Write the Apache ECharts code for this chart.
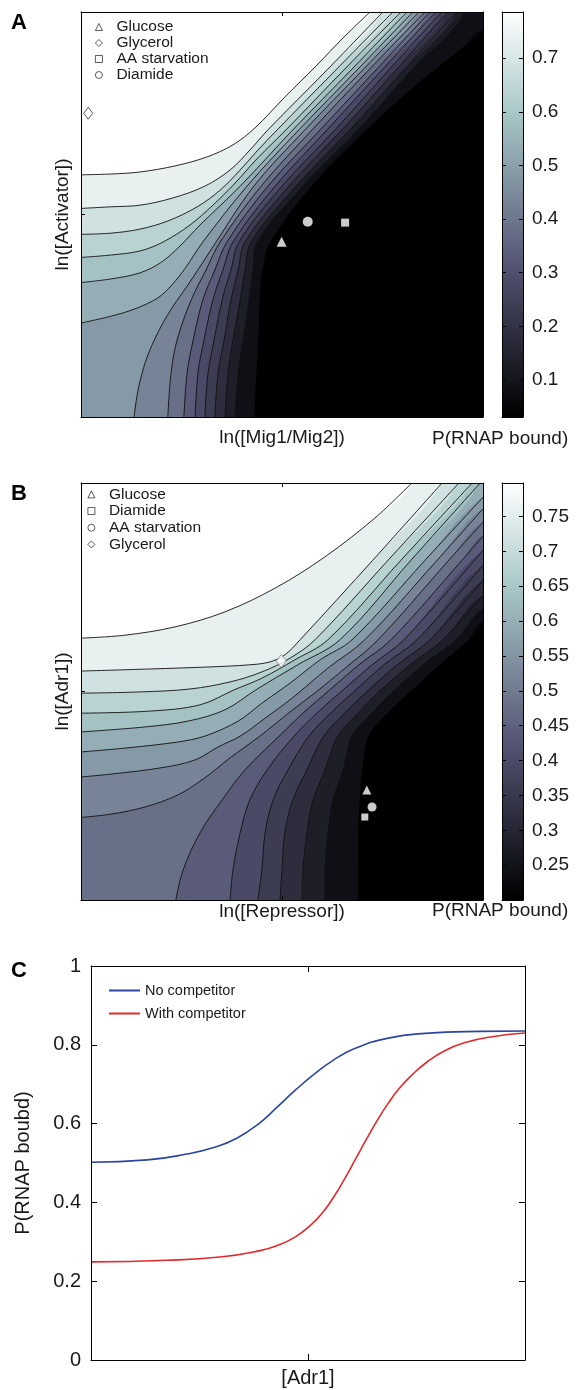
<!DOCTYPE html>
<html>
<head>
<meta charset="utf-8">
<script src="https://cdn.jsdelivr.net/npm/echarts@6/dist/echarts.min.js"></script>
<style>
  html, body { margin: 0; padding: 0; background: #fff; }
  #chart { width: 578px; height: 1390px; }
</style>
</head>
<body>
<div id="chart"></div>
<script>
// ---- panel A: contour lines of P(RNAP bound), lowest level first (axis units 0..10)
var a0 = [[4.30,0],[4.35,1.09],[4.40,1.90],[4.43,2.89],[4.50,3.63],[4.70,4.32],[5.72,5.70],[7.09,7.09],[8.26,8.15],[9.50,9.14],[10,9.56]];
var a1 = [[3.83,0],[3.91,1.09],[4.03,1.90],[4.18,2.89],[4.28,3.63],[4.38,4.32],[5.52,5.70],[6.89,7.09],[8.23,8.57],[9.55,10]];
var a2 = [[3.58,0],[3.66,1.09],[3.78,1.90],[3.96,2.89],[4.08,3.63],[4.23,4.32],[5.35,5.70],[6.69,7.09],[8.03,8.57],[9.35,10]];
var a3 = [[3.33,0],[3.41,1.09],[3.56,1.90],[3.73,2.89],[3.91,3.63],[4.08,4.32],[5.17,5.70],[6.49,7.09],[7.84,8.57],[9.13,10]];
var a4 = [[3.08,0],[3.16,1.09],[3.31,1.90],[3.51,2.89],[3.73,3.63],[3.93,4.32],[5.00,5.70],[6.32,7.09],[7.66,8.57],[8.98,10]];
var a5 = [[2.84,0],[2.91,1.09],[3.06,1.90],[3.28,2.89],[3.53,3.63],[3.78,4.32],[4.83,5.70],[6.12,7.09],[7.49,8.57],[8.83,10]];
var a6 = [[2.56,0],[2.64,1.09],[2.79,1.90],[3.03,2.89],[3.33,3.63],[3.63,4.32],[4.65,5.70],[5.95,7.09],[7.34,8.57],[8.68,10]];
var a7 = [[2.16,0],[2.24,1.09],[2.39,1.90],[2.74,2.89],[3.11,3.63],[3.46,4.32],[4.48,5.70],[5.75,7.09],[7.16,8.57],[8.56,10]];
var a8 = [[1.32,0],[1.42,0.67],[1.62,1.41],[1.92,2.10],[2.26,2.69],[2.61,3.19],[2.94,3.68],[3.26,4.17],[4.30,5.70],[5.57,7.09],[7.01,8.57],[8.41,10]];
var a9 = [[0,2.32],[0.75,2.49],[1.34,2.67],[1.91,2.94],[2.26,3.26],[2.61,3.70],[3.03,4.32],[4.13,5.70],[5.42,7.09],[6.87,8.57],[8.26,10]];
var a10 = [[0,3.32],[0.75,3.41],[1.47,3.56],[2.01,3.83],[2.46,4.22],[2.96,4.74],[3.96,5.70],[5.27,7.09],[6.72,8.57],[8.11,10]];
var a11 = [[0,3.94],[0.75,4.00],[1.47,4.10],[2.04,4.32],[2.71,4.74],[3.28,5.23],[3.81,5.75],[4.40,6.40],[5.10,7.09],[6.54,8.57],[7.96,10]];
var a12 = [[0,4.51],[0.75,4.54],[1.47,4.64],[2.16,4.84],[2.89,5.19],[3.46,5.60],[3.96,6.10],[4.40,6.59],[4.88,7.09],[6.34,8.57],[7.76,10]];
var a13 = [[0,5.15],[0.75,5.19],[1.47,5.23],[2.29,5.41],[3.08,5.70],[3.71,6.10],[4.20,6.59],[4.65,7.09],[6.12,8.57],[7.51,10]];
var a14 = [[0,5.98],[0.75,6.00],[1.47,6.05],[2.34,6.20],[3.13,6.42],[3.78,6.72],[4.33,7.14],[5.07,7.90],[5.85,8.67],[6.52,9.36],[7.19,10]];

// ---- panel B
var b0 = [[6.89,0],[6.89,0.72],[6.89,1.61],[6.92,2.40],[6.99,3.12],[7.14,3.93],[7.64,4.51],[8.23,5.04],[8.93,5.66],[9.63,6.24],[10,6.67]];
var b1 = [[6.07,0],[6.07,0.72],[6.14,1.61],[6.27,2.40],[6.52,3.12],[6.74,3.93],[7.26,4.51],[7.81,5.04],[8.53,5.66],[9.33,6.24],[10,6.98]];
var b2 = [[5.50,0],[5.52,0.72],[5.62,1.61],[5.77,2.40],[6.07,3.12],[6.39,3.93],[6.92,4.51],[7.46,5.04],[8.21,5.66],[9.00,6.24],[10,7.31]];
var b3 = [[4.95,0],[5.00,0.72],[5.07,1.61],[5.27,2.40],[5.62,3.12],[6.04,3.93],[6.59,4.51],[7.16,5.04],[7.89,5.66],[8.68,6.24],[10,7.67]];
var b4 = [[4.40,0],[4.50,0.72],[4.58,1.61],[4.78,2.40],[5.15,3.12],[5.67,3.93],[6.24,4.51],[6.84,5.04],[7.56,5.66],[8.36,6.24],[10,8.03]];
var b5 = [[3.71,0],[3.78,0.72],[3.96,1.61],[4.20,2.40],[4.63,3.12],[5.30,3.93],[5.90,4.51],[6.52,5.04],[7.24,5.64],[8.03,6.24],[10,8.39]];
var b6 = [[2.36,0],[2.54,0.72],[2.96,1.61],[3.51,2.40],[4.08,3.12],[4.93,3.93],[5.52,4.48],[6.19,5.04],[6.94,5.66],[7.71,6.24],[9.48,8.15],[10,8.73]];
var b7 = [[0,1.98],[0.75,2.06],[1.59,2.23],[2.41,2.52],[3.08,2.93],[3.71,3.41],[4.45,3.93],[5.20,4.51],[5.85,4.99],[6.57,5.56],[7.39,6.24],[9.15,8.15],[10,9.06]];
var b8 = [[0,2.95],[0.75,3.02],[1.99,3.17],[2.84,3.36],[3.41,3.67],[3.96,3.93],[4.58,4.36],[5.25,4.84],[6.14,5.56],[7.06,6.24],[8.86,8.15],[10,9.38]];
var b9 = [[0,3.55],[1.17,3.65],[2.41,3.79],[3.08,3.93],[3.91,4.29],[4.50,4.72],[5.20,5.20],[5.95,5.76],[6.74,6.24],[8.56,8.15],[10,9.66]];
var b10 = [[0,4.03],[1.59,4.15],[2.66,4.29],[3.58,4.56],[4.35,5.04],[5.39,5.64],[6.44,6.24],[8.21,8.15],[9.93,10]];
var b11 = [[0,4.48],[1.72,4.53],[2.96,4.68],[3.81,5.04],[4.50,5.32],[5.32,5.76],[6.14,6.24],[7.96,8.15],[9.73,10]];
var b12 = [[0,4.96],[1.47,4.99],[2.71,5.06],[3.71,5.23],[4.50,5.47],[5.20,5.80],[5.82,6.24],[7.64,8.15],[9.40,10]];
var b13 = [[0,5.49],[1.72,5.54],[3.21,5.59],[4.20,5.64],[4.70,5.71],[5.07,5.88],[5.45,6.24],[7.26,8.15],[8.98,10]];
var b14 = [[0,6.28],[1.09,6.35],[2.34,6.55],[3.58,6.91],[4.83,7.48],[6.07,8.23],[7.31,9.16],[8.23,10]];

// ---- condition markers
var glucoseA = [[4.99,4.33]];
var glycerolA = [[0.18,7.50]];
var aaStarvationA = [[6.57,4.80]];
var diamideA = [[5.64,4.82]];
var glucoseB = [[7.11,2.64]];
var diamideB = [[7.06,1.99]];
var aaStarvationB = [[7.24,2.23]];
var glycerolB = [[4.98,5.73]];

// ---- colorbars
var cbRangeA = [0.031, 0.786];
var cbTicksA = [0.1, 0.2, 0.3, 0.4, 0.5, 0.6, 0.7];
var cbRangeB = [0.2, 0.798];
var cbTicksB = [0.25, 0.3, 0.35, 0.4, 0.45, 0.5, 0.55, 0.6, 0.65, 0.7, 0.75];

// ---- panel C: P(RNAP bound) against [Adr1] (x in % of axis)
var noCompetitor = [[0,0.502],[13,0.508],[21.7,0.522],[28.5,0.540],[33.6,0.563],[38.7,0.600],[43,0.643],[47.2,0.686],[51.5,0.726],[55.7,0.760],[60.9,0.791],[68.5,0.817],[77,0.829],[89.8,0.834],[100,0.835]];
var withCompetitor = [[0,0.249],[17.4,0.253],[30.2,0.262],[38.7,0.277],[43,0.291],[47,0.312],[50.5,0.341],[53.5,0.376],[56,0.415],[58.5,0.461],[61,0.511],[63.5,0.561],[66,0.609],[68.5,0.652],[71,0.689],[74,0.724],[77.5,0.757],[81.5,0.785],[86,0.805],[92,0.820],[100,0.830]];

var contoursA = [a0, a1, a2, a3, a4, a5, a6, a7, a8, a9, a10, a11, a12, a13, a14];
var contoursB = [b0, b1, b2, b3, b4, b5, b6, b7, b8, b9, b10, b11, b12, b13, b14];

var FONT = '"Liberation Sans", Arial, Helvetica, sans-serif';
var TEXT = '#1a1a1a';
var SMOOTH = 0.35;

// MATLAB "bone" colormap
function bone(t) {
  var hr = Math.min(1, t / 0.375);
  var hg = Math.min(1, Math.max(0, (t - 0.375) / 0.375));
  var hb = Math.max(0, (t - 0.75) / 0.25);
  return 'rgb(' + Math.round(255 * (7 * t + hb) / 8) + ',' +
    Math.round(255 * (7 * t + hg) / 8) + ',' +
    Math.round(255 * (7 * t + hr) / 8) + ')';
}
var boneStops = [
  { offset: 0, color: bone(1) },
  { offset: 0.25, color: bone(0.75) },
  { offset: 0.625, color: bone(0.375) },
  { offset: 1, color: bone(0) }
];

// region above/left of contour k, closed round the upper-left corner outside the plot
function fillRenderer(contours) {
  return function (params, api) {
    var k = api.value(0);
    var line = contours[k];
    var first = line[0], last = line[line.length - 1];
    var pts = line.slice();
    if (last[1] >= 10) pts.push([last[0], 11]);
    else pts.push([11, last[1]], [11, 11]);
    pts.push([-1, 11]);
    if (first[0] <= 0) pts.push([-1, first[1]]);
    else pts.push([-1, -1], [first[0], -1]);
    return {
      type: 'polygon',
      shape: { points: pts.map(function (p) { return api.coord(p); }), smooth: SMOOTH },
      style: { fill: bone((k + 1) / contours.length) }
    };
  };
}
function lineRenderer(contours) {
  return function (params, api) {
    var line = contours[api.value(0)];
    return {
      type: 'polyline',
      shape: { points: line.map(function (p) { return api.coord(p); }), smooth: SMOOTH },
      style: { stroke: '#111', lineWidth: 0.9, fill: null }
    };
  };
}
function barRenderer(params, api) {
  var top = api.coord([0, api.value(1)]);
  var bottom = api.coord([1, api.value(0)]);
  return {
    type: 'rect',
    shape: { x: top[0], y: top[1], width: bottom[0] - top[0], height: bottom[1] - top[1] },
    style: { fill: new echarts.graphic.LinearGradient(0, 0, 0, 1, boneStops) }
  };
}
function indexData(list) {
  return list.map(function (c, i) { return [i]; });
}

var nameStyle = { fontSize: 19, fontFamily: FONT, color: TEXT };
var tickIn = function (len, values) {
  var t = { show: true, inside: true, length: len, lineStyle: { color: '#000', width: 1 } };
  if (values) t.customValues = values;
  return t;
};
function frameAxis(gridIndex, extra) {
  return Object.assign({
    gridIndex: gridIndex, type: 'value', z: 10,
    axisLine: { show: true, onZero: false, lineStyle: { color: '#000', width: 1 } },
    axisTick: { show: false }, axisLabel: { show: false }, splitLine: { show: false }
  }, extra);
}
function panelTitle(text, top) {
  return { text: text, left: 11, top: top, padding: 0,
    textStyle: { fontSize: 22, fontWeight: 'bold', color: '#000', fontFamily: FONT } };
}
var markerLegend = {
  orient: 'vertical', itemWidth: 7, itemHeight: 7, itemGap: 0, padding: 0, selectedMode: false,
  itemStyle: { color: '#fff', borderColor: '#000', borderWidth: 0.8 }
};

var chart = echarts.init(document.getElementById('chart'), null, { renderer: 'canvas' });

var option = {
  backgroundColor: '#fff',
  animation: false,
  textStyle: { fontFamily: FONT },
  title: [panelTitle('A', 12), panelTitle('B', 483), panelTitle('C', 960)],
  grid: [
    { left: 81, top: 12, width: 402, height: 405, show: true, backgroundColor: bone(0), borderWidth: 0 },
    { left: 502, top: 12, width: 21, height: 405 },
    { left: 81, top: 483, width: 402, height: 417, show: true, backgroundColor: bone(0), borderWidth: 0 },
    { left: 502, top: 483, width: 21, height: 417 },
    { left: 91, top: 966, width: 434, height: 394 }
  ],
  xAxis: [
    frameAxis(0, { min: 0, max: 10, interval: 5, axisTick: tickIn(4), name: 'ln([Mig1/Mig2])', nameLocation: 'middle', nameGap: 11, nameTextStyle: nameStyle }),
    frameAxis(0, { min: 0, max: 10, interval: 5, position: 'top', axisTick: tickIn(4) }),
    frameAxis(2, { min: 0, max: 10, interval: 5, axisTick: tickIn(4), name: 'ln([Repressor])', nameLocation: 'middle', nameGap: 2, nameTextStyle: nameStyle }),
    frameAxis(2, { min: 0, max: 10, interval: 5, position: 'top', axisTick: tickIn(4) }),
    frameAxis(1, { min: 0, max: 1 }),
    frameAxis(1, { min: 0, max: 1, position: 'top' }),
    frameAxis(3, { min: 0, max: 1 }),
    frameAxis(3, { min: 0, max: 1, position: 'top' }),
    frameAxis(4, { min: 0, max: 100, interval: 50, axisTick: tickIn(6), name: '[Adr1]', nameLocation: 'middle', nameGap: 8, nameTextStyle: { fontSize: 20, fontFamily: FONT, color: TEXT } }),
    frameAxis(4, { min: 0, max: 100, interval: 50, position: 'top', axisTick: tickIn(6) })
  ],
  yAxis: [
    frameAxis(0, { min: 0, max: 10, interval: 5, axisTick: tickIn(4), name: 'ln([Activator])', nameLocation: 'middle', nameGap: 9, nameTextStyle: nameStyle }),
    frameAxis(0, { min: 0, max: 10, interval: 5, position: 'right', axisTick: tickIn(4) }),
    frameAxis(2, { min: 0, max: 10, interval: 5, axisTick: tickIn(4), name: 'ln([Adr1])', nameLocation: 'middle', nameGap: 9, nameTextStyle: nameStyle }),
    frameAxis(2, { min: 0, max: 10, interval: 5, position: 'right', axisTick: tickIn(4) }),
    frameAxis(1, { min: cbRangeA[0], max: cbRangeA[1], position: 'right', axisTick: tickIn(4, cbTicksA),
      axisLabel: { show: true, customValues: cbTicksA, margin: 9, fontSize: 19, fontFamily: FONT, color: TEXT } }),
    frameAxis(1, { min: cbRangeA[0], max: cbRangeA[1], position: 'left', axisTick: tickIn(4, cbTicksA) }),
    frameAxis(3, { min: cbRangeB[0], max: cbRangeB[1], position: 'right', axisTick: tickIn(4, cbTicksB),
      axisLabel: { show: true, customValues: cbTicksB, margin: 9, fontSize: 19, fontFamily: FONT, color: TEXT } }),
    frameAxis(3, { min: cbRangeB[0], max: cbRangeB[1], position: 'left', axisTick: tickIn(4, cbTicksB) }),
    frameAxis(4, { min: 0, max: 1, interval: 0.2, axisTick: tickIn(6),
      axisLabel: { show: true, margin: 10, fontSize: 20, fontFamily: FONT, color: TEXT },
      name: 'P(RNAP boubd)', nameLocation: 'middle', nameGap: 58, nameTextStyle: { fontSize: 20, fontFamily: FONT, color: TEXT } }),
    frameAxis(4, { min: 0, max: 1, interval: 0.2, position: 'right', axisTick: tickIn(6) })
  ],
  legend: [
    Object.assign({}, markerLegend, {
      left: 95, top: 19,
      textStyle: { fontSize: 15.5, lineHeight: 15, fontFamily: FONT, color: TEXT, padding: [0, 0, 0, 9] },
      data: [
        { name: 'Glucose', icon: 'triangle' },
        { name: 'Glycerol', icon: 'diamond' },
        { name: 'AA starvation', icon: 'rect' },
        { name: 'Diamide', icon: 'circle' }
      ]
    }),
    Object.assign({}, markerLegend, {
      left: 87.5, top: 486,
      textStyle: { fontSize: 15.5, lineHeight: 16.7, fontFamily: FONT, color: TEXT, padding: [0, 0, 0, 9] },
      data: [
        { name: 'Glucose', icon: 'triangle' },
        { name: 'Diamide', icon: 'rect' },
        { name: 'AA starvation', icon: 'circle' },
        { name: 'Glycerol', icon: 'diamond' }
      ]
    }),
    {
      orient: 'vertical', left: 109, top: 979, itemWidth: 31, itemHeight: 2, itemGap: 0, padding: 0, selectedMode: false,
      icon: 'rect',
      textStyle: { fontSize: 14.5, lineHeight: 23, fontFamily: FONT, color: TEXT },
      data: ['No competitor', 'With competitor']
    }
  ],
  graphic: [
    { type: 'text', left: 432, top: 429, style: { text: 'P(RNAP bound)', fontSize: 19, fontFamily: FONT, fill: TEXT } },
    { type: 'text', left: 432, top: 901, style: { text: 'P(RNAP bound)', fontSize: 19, fontFamily: FONT, fill: TEXT } }
  ],
  series: [
    { type: 'custom', name: 'fillA', xAxisIndex: 0, yAxisIndex: 0, clip: true, silent: true, z: 1,
      data: indexData(contoursA), renderItem: fillRenderer(contoursA) },
    { type: 'custom', name: 'linesA', xAxisIndex: 0, yAxisIndex: 0, clip: true, silent: true, z: 2,
      data: indexData(contoursA), renderItem: lineRenderer(contoursA) },
    { type: 'custom', name: 'fillB', xAxisIndex: 2, yAxisIndex: 2, clip: true, silent: true, z: 1,
      data: indexData(contoursB), renderItem: fillRenderer(contoursB) },
    { type: 'custom', name: 'linesB', xAxisIndex: 2, yAxisIndex: 2, clip: true, silent: true, z: 2,
      data: indexData(contoursB), renderItem: lineRenderer(contoursB) },
    { type: 'custom', name: 'barA', xAxisIndex: 4, yAxisIndex: 4, silent: true, z: 1,
      data: [cbRangeA], renderItem: barRenderer },
    { type: 'custom', name: 'barB', xAxisIndex: 6, yAxisIndex: 6, silent: true, z: 1,
      data: [cbRangeB], renderItem: barRenderer },

    { type: 'scatter', name: 'Glucose', xAxisIndex: 0, yAxisIndex: 0, z: 5, data: glucoseA,
      symbol: 'triangle', symbolSize: 10, itemStyle: { color: '#fff' } },
    { type: 'scatter', name: 'Glycerol', xAxisIndex: 0, yAxisIndex: 0, z: 5, data: glycerolA,
      symbol: 'diamond', symbolSize: [9, 12], itemStyle: { color: '#fff', borderColor: '#000', borderWidth: 0.8 } },
    { type: 'scatter', name: 'AA starvation', xAxisIndex: 0, yAxisIndex: 0, z: 5, data: aaStarvationA,
      symbol: 'rect', symbolSize: 8, itemStyle: { color: '#fff' } },
    { type: 'scatter', name: 'Diamide', xAxisIndex: 0, yAxisIndex: 0, z: 5, data: diamideA,
      symbol: 'circle', symbolSize: 10, itemStyle: { color: '#fff' } },

    { type: 'scatter', name: 'Glucose', xAxisIndex: 2, yAxisIndex: 2, z: 5, data: glucoseB,
      symbol: 'triangle', symbolSize: 9, itemStyle: { color: '#fff' } },
    { type: 'scatter', name: 'Diamide', xAxisIndex: 2, yAxisIndex: 2, z: 5, data: diamideB,
      symbol: 'rect', symbolSize: 7, itemStyle: { color: '#fff' } },
    { type: 'scatter', name: 'AA starvation', xAxisIndex: 2, yAxisIndex: 2, z: 5, data: aaStarvationB,
      symbol: 'circle', symbolSize: 9, itemStyle: { color: '#fff' } },
    { type: 'scatter', name: 'Glycerol', xAxisIndex: 2, yAxisIndex: 2, z: 5, data: glycerolB,
      symbol: 'diamond', symbolSize: [10, 13], itemStyle: { color: '#fff', borderColor: '#777', borderWidth: 0.8 } },

    { type: 'line', name: 'No competitor', xAxisIndex: 8, yAxisIndex: 8, z: 3, data: noCompetitor,
      symbol: 'none', smooth: 0.5, lineStyle: { color: '#2b45a2', width: 1.6 }, itemStyle: { color: '#2b45a2' } },
    { type: 'line', name: 'With competitor', xAxisIndex: 8, yAxisIndex: 8, z: 3, data: withCompetitor,
      symbol: 'none', smooth: 0.5, lineStyle: { color: '#e4282b', width: 1.6 }, itemStyle: { color: '#e4282b' } }
  ]
};

chart.setOption(option);
</script>
</body>
</html>
